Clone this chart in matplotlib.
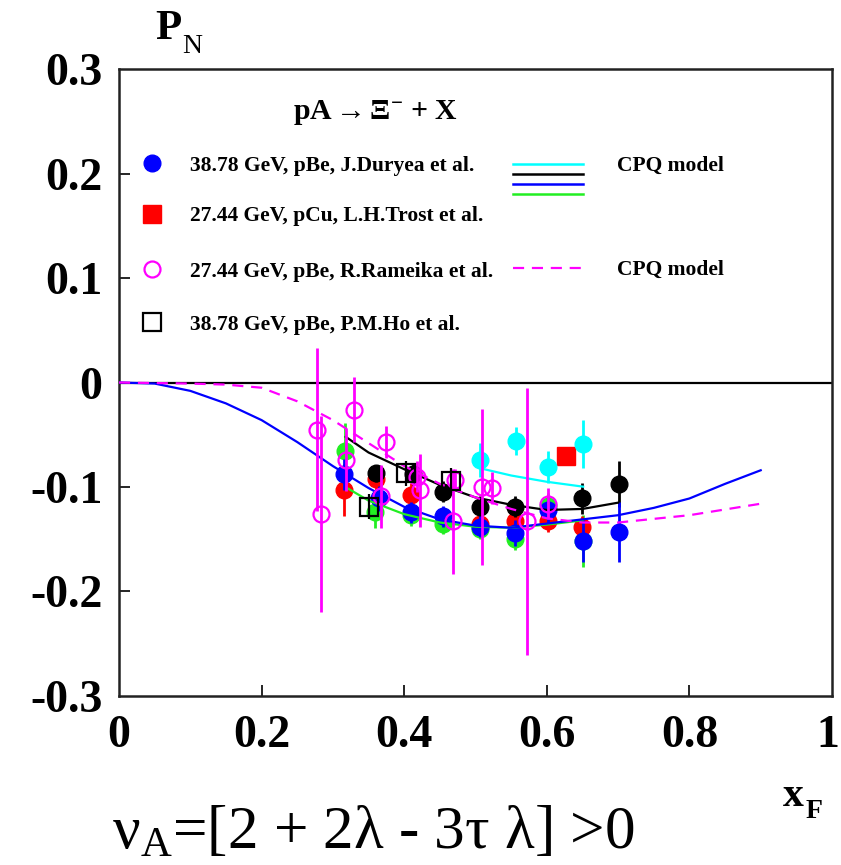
import matplotlib
matplotlib.use("Agg")
import matplotlib.pyplot as plt
from matplotlib.transforms import ScaledTranslation

plt.rcParams['font.family'] = ['Liberation Serif', 'DejaVu Serif']
plt.rcParams['mathtext.fontset'] = 'custom'
plt.rcParams['mathtext.rm'] = 'Liberation Serif'
plt.rcParams['mathtext.it'] = 'Liberation Serif:italic'
plt.rcParams['mathtext.bf'] = 'Liberation Serif:bold'
plt.rcParams['axes.unicode_minus'] = False

# ---------------- data ----------------
# J.Duryea et al. (blue filled circles)
blue_x = [0.316, 0.364, 0.410, 0.455, 0.506, 0.556, 0.601, 0.651, 0.701]
blue_y = [-0.088, -0.111, -0.124, -0.128, -0.138, -0.144, -0.122, -0.152, -0.143]
blue_e = [0.015, 0.012, 0.010, 0.010, 0.010, 0.012, 0.012, 0.020, 0.029]
# green filled circles
green_x = [0.317, 0.359, 0.410, 0.455, 0.506, 0.556, 0.601, 0.651]
green_y = [-0.066, -0.124, -0.127, -0.135, -0.140, -0.150, -0.118, -0.152]
green_e = [0.027, 0.015, 0.010, 0.010, 0.010, 0.010, 0.012, 0.025]
# red filled circles
red_x = [0.316, 0.360, 0.410, 0.506, 0.556, 0.601, 0.650]
red_y = [-0.103, -0.092, -0.108, -0.135, -0.133, -0.133, -0.138]
red_e = [0.025, 0.012, 0.012, 0.010, 0.010, 0.010, 0.010]
# black filled circles
black_x = [0.360, 0.413, 0.455, 0.506, 0.556, 0.650, 0.701]
black_y = [-0.087, -0.088, -0.1045, -0.119, -0.119, -0.111, -0.0975]
black_e = [0.008, 0.010, 0.010, 0.010, 0.010, 0.015, 0.022]
# cyan filled circles
cyan_x = [0.506, 0.557, 0.601, 0.651]
cyan_y = [-0.074, -0.056, -0.081, -0.059]
cyan_e = [0.016, 0.013, 0.015, 0.023]
# L.H.Trost et al. (red square)
trost_x = [0.627]
trost_y = [-0.070]
# R.Rameika et al. (magenta open circles)
ram_x = [0.278, 0.284, 0.318, 0.330, 0.368, 0.374, 0.418, 0.422, 0.469, 0.471, 0.509, 0.523, 0.572, 0.602]
ram_y = [-0.045, -0.126, -0.074, -0.026, -0.109, -0.057, -0.090, -0.103, -0.133, -0.093, -0.100, -0.101, -0.133, -0.116]
ram_e = [0.078, 0.094, 0.030, 0.031, 0.030, 0.015, 0.015, 0.035, 0.050, 0.010, 0.075, 0.015, 0.128, 0.015]
# P.M.Ho et al. (black open squares)
ho_x = [0.351, 0.402, 0.466]
ho_y = [-0.119, -0.087, -0.094]
ho_e = [0.012, 0.012, 0.012]

# CPQ model curves
blue_cx = [0.0, 0.05, 0.10, 0.15, 0.20, 0.25, 0.30, 0.35, 0.40, 0.45, 0.50, 0.55, 0.60, 0.65, 0.70, 0.75, 0.80, 0.85, 0.90]
blue_cy = [0.0, -0.001, -0.008, -0.020, -0.036, -0.057, -0.080, -0.101, -0.119, -0.131, -0.137, -0.139, -0.135, -0.131, -0.127, -0.120, -0.111, -0.097, -0.084]
green_cx = [0.32, 0.35, 0.40, 0.45, 0.50, 0.55, 0.60, 0.65]
green_cy = [-0.101, -0.113, -0.126, -0.134, -0.138, -0.139, -0.136, -0.132]
black_cx = [0.318, 0.35, 0.40, 0.45, 0.50, 0.55, 0.60, 0.65, 0.70]
black_cy = [-0.052, -0.067, -0.083, -0.098, -0.110, -0.117, -0.122, -0.121, -0.115]
cyan_cx = [0.506, 0.55, 0.60, 0.651]
cyan_cy = [-0.082, -0.089, -0.095, -0.0997]
mag_cx = [0.0, 0.10, 0.15, 0.20, 0.25, 0.30, 0.35, 0.40, 0.45, 0.50, 0.55, 0.60, 0.65, 0.70, 0.80, 0.90]
mag_cy = [0.0, -0.001, -0.002, -0.005, -0.018, -0.036, -0.058, -0.080, -0.097, -0.110, -0.121, -0.130, -0.134, -0.134, -0.127, -0.116]

xticks = [0, 0.2, 0.4, 0.6, 0.8, 1]
xtick_labels = ['0', '0.2', '0.4', '0.6', '0.8', '1']
yticks = [-0.3, -0.2, -0.1, 0, 0.1, 0.2, 0.3]
ytick_labels = ['-0.3', '-0.2', '-0.1', '0', '0.1', '0.2', '0.3']

legend_labels = ['38.78 GeV, pBe, J.Duryea et al.',
                 '27.44 GeV, pCu, L.H.Trost et al.',
                 '27.44 GeV, pBe, R.Rameika et al.',
                 '38.78 GeV, pBe, P.M.Ho et al.']

BLUE = '#0000ff'
RED = '#ff0000'
GREEN = '#22ee22'
CYAN = '#00ffff'
MAG = '#ff00ff'
BLK = '#000000'

fig = plt.figure(figsize=(8.41, 8.65), dpi=100)
ax = fig.add_axes([0.1415, 0.1954, 0.8478, 0.7248])
ax.set_xlim(0, 1)
ax.set_ylim(-0.3, 0.3)

ax.axhline(0, color=BLK, lw=1.6, zorder=1)

ms = 12
elw = 2.0
def filled(x, y, e, c, z):
    ax.errorbar(x, y, yerr=e, fmt='o', color=c, ms=ms, mec=c, mfc=c,
                elinewidth=elw, capsize=0, zorder=z)

filled(green_x, green_y, green_e, GREEN, 2)
filled(red_x, red_y, red_e, RED, 3)
filled(black_x, black_y, black_e, BLK, 4)
filled(blue_x, blue_y, blue_e, BLUE, 5)
filled(cyan_x, cyan_y, cyan_e, CYAN, 5)
ax.plot(trost_x, trost_y, 's', color=RED, ms=12.5, zorder=5)

DASH = (0, (5, 3.5))
ax.plot(green_cx, green_cy, color=GREEN, lw=1.6, zorder=6)
ax.plot(blue_cx, blue_cy, color=BLUE, lw=1.6, zorder=6)
ax.plot(black_cx, black_cy, color=BLK, lw=1.6, zorder=6)
ax.plot(cyan_cx, cyan_cy, color=CYAN, lw=1.6, zorder=6)
ax.plot(mag_cx, mag_cy, color=MAG, lw=1.6, ls=DASH, zorder=6)

ax.errorbar(ram_x, ram_y, yerr=ram_e, fmt='o', ms=11.5, mfc='none', mec=MAG,
            mew=1.6, color=MAG, elinewidth=elw, capsize=0, zorder=7)
ax.errorbar(ho_x, ho_y, yerr=ho_e, fmt='s', ms=12.5, mfc='none', mec=BLK,
            mew=1.6, color=BLK, elinewidth=1.6, capsize=0, zorder=8)

# axes styling
for s in ax.spines.values():
    s.set_linewidth(1.8)
    s.set_color('#222222')
ax.set_xticks(xticks)
ax.set_xticklabels(xtick_labels)
ax.set_yticks(yticks)
ax.set_yticklabels(ytick_labels)
ax.tick_params(direction='in', length=8, width=1.2, labelsize=33, pad=12)
ax.tick_params(axis='x', pad=14)
ax.tick_params(axis='x', which='both', top=False)
for lab in ax.get_xticklabels() + ax.get_yticklabels():
    lab.set_fontweight('bold')
# shift the last x label slightly left so it stays inside
last = ax.get_xticklabels()[-1]
last.set_transform(last.get_transform() + ScaledTranslation(-3 / 72, 0, fig.dpi_scale_trans))
# hide end ticks
for t in ax.xaxis.get_major_ticks():
    if t.get_loc() in (0, 1):
        t.tick1line.set_visible(False)
for t in ax.yaxis.get_major_ticks():
    if abs(t.get_loc()) in (0.3,):
        t.tick1line.set_visible(False)

# legend (manual)
tA = ax.transAxes
ax.text(0.36, 0.93, 'pA$\\rightarrow\\mathbf{\\Xi}^{\\mathbf{-}}$ + X', transform=tA,
        ha='center', va='center', fontsize=21.5, fontweight='bold')
mk_x = 0.046
rows_y = [0.850, 0.769, 0.681, 0.596]
ax.plot([mk_x], [rows_y[0]], 'o', color=BLUE, ms=12, transform=tA, clip_on=False)
ax.plot([mk_x], [rows_y[1]], 's', color=RED, ms=12.5, transform=tA, clip_on=False)
ax.plot([mk_x], [rows_y[2]], 'o', mfc='none', mec=MAG, mew=1.6, ms=11.5, transform=tA, clip_on=False)
ax.plot([mk_x], [rows_y[3]], 's', mfc='none', mec=BLK, mew=1.6, ms=12.5, transform=tA, clip_on=False)
for yy, lab in zip(rows_y, legend_labels):
    ax.text(0.0996, yy - 0.004, lab, transform=tA, ha='left', va='center',
            fontsize=15.5, fontweight='bold')
for yy, c in zip([0.849, 0.833, 0.817, 0.800], [CYAN, BLK, BLUE, GREEN]):
    ax.plot([0.553, 0.651], [yy, yy], color=c, lw=1.8, transform=tA)
ax.plot([0.553, 0.651], [0.683, 0.683], color=MAG, lw=1.6, ls=DASH, transform=tA)
ax.text(0.698, 0.845, 'CPQ model', transform=tA, ha='left', va='center',
        fontsize=15.5, fontweight='bold')
ax.text(0.698, 0.679, 'CPQ model', transform=tA, ha='left', va='center',
        fontsize=15.5, fontweight='bold')

# axis titles
fig.text(155 / 841, 1 - 39 / 865, 'P', fontsize=31, fontweight='bold', ha='left', va='baseline')
fig.text(182 / 841, 1 - 53 / 865, 'N', fontsize=20, ha='left', va='baseline')
fig.text(783 / 841, 1 - 806 / 865, 'x', fontsize=30, fontweight='bold', ha='left', va='baseline')
fig.text(806 / 841, 1 - 818 / 865, 'F', fontsize=20, fontweight='bold', ha='left', va='baseline')

# formula
fig.text(112 / 841, 1 - 849 / 865, '\u03bd$_{\\mathrm{A}}$=[2 + 2\u03bb - 3\u03c4 \u03bb] >0',
         fontsize=44, ha='left', va='baseline')

fig.savefig('out.png', dpi=100)
